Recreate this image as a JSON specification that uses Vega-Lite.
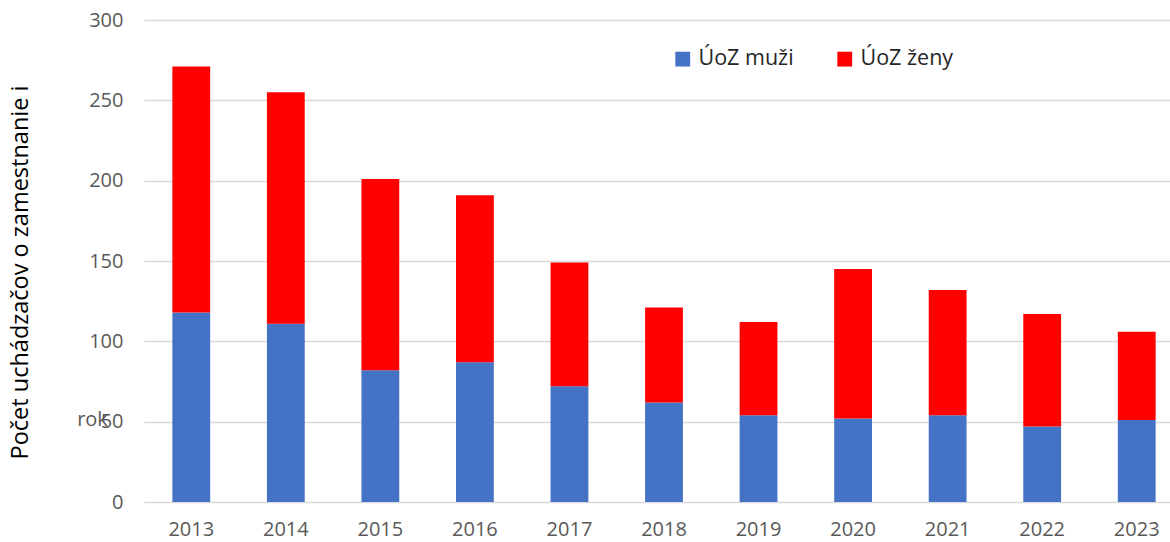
{
  "$schema": "https://vega.github.io/schema/vega-lite/v6.json",
  "autosize": {"type": "none"},
  "padding": {"left": 144, "top": 20, "right": 0, "bottom": 40},
  "width": 1040,
  "height": 482,
  "background": "white",
  "config": {
    "view": {"stroke": null},
    "font": "Open Sans",
    "axis": {"labelFont": "Open Sans", "titleFont": "Open Sans"},
    "legend": {"labelFont": "Open Sans"}
  },
  "data": {
    "values": [
      {"rok": "2013", "serie": "ÚoZ muži", "pocet": 118},
      {"rok": "2013", "serie": "ÚoZ ženy", "pocet": 153},
      {"rok": "2014", "serie": "ÚoZ muži", "pocet": 111},
      {"rok": "2014", "serie": "ÚoZ ženy", "pocet": 144},
      {"rok": "2015", "serie": "ÚoZ muži", "pocet": 82},
      {"rok": "2015", "serie": "ÚoZ ženy", "pocet": 119},
      {"rok": "2016", "serie": "ÚoZ muži", "pocet": 87},
      {"rok": "2016", "serie": "ÚoZ ženy", "pocet": 104},
      {"rok": "2017", "serie": "ÚoZ muži", "pocet": 72},
      {"rok": "2017", "serie": "ÚoZ ženy", "pocet": 77},
      {"rok": "2018", "serie": "ÚoZ muži", "pocet": 62},
      {"rok": "2018", "serie": "ÚoZ ženy", "pocet": 59},
      {"rok": "2019", "serie": "ÚoZ muži", "pocet": 54},
      {"rok": "2019", "serie": "ÚoZ ženy", "pocet": 58},
      {"rok": "2020", "serie": "ÚoZ muži", "pocet": 52},
      {"rok": "2020", "serie": "ÚoZ ženy", "pocet": 93},
      {"rok": "2021", "serie": "ÚoZ muži", "pocet": 54},
      {"rok": "2021", "serie": "ÚoZ ženy", "pocet": 78},
      {"rok": "2022", "serie": "ÚoZ muži", "pocet": 47},
      {"rok": "2022", "serie": "ÚoZ ženy", "pocet": 70},
      {"rok": "2023", "serie": "ÚoZ muži", "pocet": 51},
      {"rok": "2023", "serie": "ÚoZ ženy", "pocet": 55}
    ]
  },
  "mark": {"type": "bar"},
  "encoding": {
    "x": {
      "field": "rok",
      "type": "ordinal",
      "scale": {"paddingInner": 0.6, "paddingOuter": 0.3},
      "axis": {
        "title": "rok",
        "titleFontSize": 20,
        "titleFontWeight": "normal",
        "titleColor": "#595959",
        "titleX": -52,
        "titleY": -83,
        "titleAlign": "center",
        "titleBaseline": "middle",
        "labelAngle": 0,
        "labelFontSize": 20,
        "labelColor": "#595959",
        "labelPadding": 17,
        "domain": false,
        "ticks": false,
        "grid": false
      }
    },
    "y": {
      "field": "pocet",
      "type": "quantitative",
      "stack": "zero",
      "scale": {"domain": [0, 300], "nice": false},
      "axis": {
        "title": "Počet uchádzačov o zamestnanie i",
        "titleFontSize": 23.5,
        "titleFontWeight": "normal",
        "titleColor": "#000000",
        "titleAngle": -90,
        "titleX": -124,
        "titleY": 252,
        "titleAlign": "center",
        "titleBaseline": "middle",
        "values": [0, 50, 100, 150, 200, 250, 300],
        "labelFontSize": 20,
        "labelColor": "#595959",
        "labelPadding": 21,
        "domain": false,
        "ticks": false,
        "grid": true,
        "gridColor": "#d9d9d9",
        "gridWidth": 1.5
      }
    },
    "color": {
      "field": "serie",
      "type": "nominal",
      "scale": {"domain": ["ÚoZ muži", "ÚoZ ženy"], "range": ["#4472C4", "#FF0000"]},
      "legend": {
        "title": null,
        "orient": "none",
        "legendX": 528,
        "legendY": 28,
        "direction": "horizontal",
        "symbolType": "square",
        "symbolSize": 220,
        "symbolStrokeWidth": 0,
        "labelFontSize": 21.5,
        "labelColor": "#262626",
        "labelOffset": 5,
        "columnPadding": 40
      }
    },
    "order": {"field": "serie", "sort": "ascending"}
  }
}
